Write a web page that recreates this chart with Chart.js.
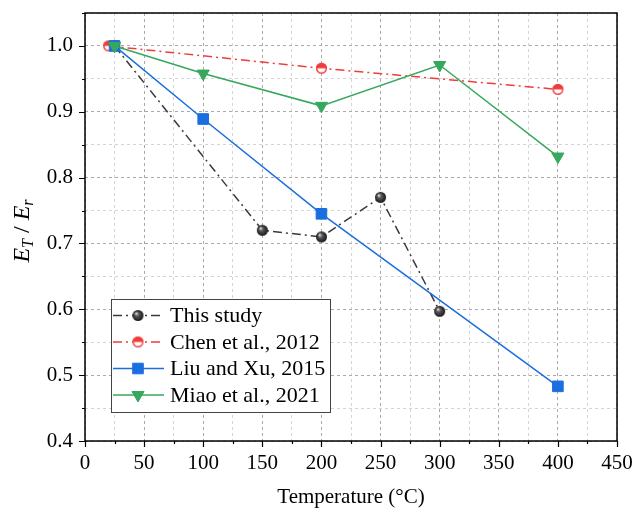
<!DOCTYPE html>
<html><head><meta charset="utf-8">
<script src="https://cdn.jsdelivr.net/npm/chart.js@4.4.0/dist/chart.umd.min.js"></script>
<style>html,body{margin:0;padding:0;background:#fff}</style></head>
<body><canvas id="c" width="634" height="514"></canvas>
<script>
// ---- data ----
const thisStudyT = [25, 150, 200, 250, 300];
const thisStudyE = [1.0, 0.72, 0.71, 0.77, 0.597];
const chenT = [20, 200, 400];
const chenE = [1.0, 0.966, 0.934];
const liuT = [25, 100, 200, 400];
const liuE = [1.0, 0.889, 0.745, 0.483];
const miaoT = [25, 100, 200, 300, 400];
const miaoE = [1.0, 0.958, 0.909, 0.971, 0.832];
const seriesNames = ['This study', 'Chen et al., 2012', 'Liu and Xu, 2015', 'Miao et al., 2021'];
const xTitle = 'Temperature (°C)';
const yTitleParts = ['E', 'T', ' / ', 'E', 'r'];

const FONT = '"Liberation Serif", "Times New Roman", serif';
const BLACK = '#3a3a3a', RED = '#f03c3c', BLUE = '#1a6ee0', GREEN = '#36a85e';

function sphere(r) {
  const s = Math.ceil(r * 2 + 2), c = document.createElement('canvas');
  c.width = c.height = s;
  const g = c.getContext('2d'), cx = s / 2;
  const grd = g.createRadialGradient(cx - r * 0.35, cx - r * 0.4, r * 0.05, cx, cx, r);
  grd.addColorStop(0, '#e0e0e0'); grd.addColorStop(0.35, '#5a5a5a'); grd.addColorStop(1, '#151515');
  g.fillStyle = grd; g.beginPath(); g.arc(cx, cx, r, 0, Math.PI * 2); g.fill();
  return c;
}
function halfCircle(r, col) {
  const s = Math.ceil(r * 2 + 2), c = document.createElement('canvas');
  c.width = c.height = s;
  const g = c.getContext('2d'), cx = s / 2;
  g.fillStyle = '#fff'; g.beginPath(); g.arc(cx, cx, r, 0, Math.PI * 2); g.fill();
  g.fillStyle = col; g.beginPath(); g.arc(cx, cx, r, Math.PI, Math.PI * 2); g.closePath(); g.fill();
  g.strokeStyle = col; g.lineWidth = 1.4; g.beginPath(); g.arc(cx, cx, r - 0.7, 0, Math.PI * 2); g.stroke();
  return c;
}
const sphereImg = sphere(5.5);
const halfImg = halfCircle(5.5, RED);

function pts(xs, ys) { return xs.map((x, i) => ({ x: x, y: ys[i] })); }

const datasets = [
  { label: seriesNames[0], data: pts(thisStudyT, thisStudyE), borderColor: BLACK, backgroundColor: BLACK,
    borderWidth: 1.5, borderDash: [9, 4, 2, 4], pointStyle: sphereImg, order: 3 },
  { label: seriesNames[1], data: pts(chenT, chenE), borderColor: RED, backgroundColor: RED,
    borderWidth: 1.5, borderDash: [9, 4, 2, 4], pointStyle: halfImg, order: 2 },
  { label: seriesNames[2], data: pts(liuT, liuE), borderColor: BLUE, backgroundColor: BLUE,
    borderWidth: 1.5, pointStyle: 'rect', pointRadius: 7.5, pointBorderColor: BLUE, pointBorderWidth: 1, order: 1 },
  { label: seriesNames[3], data: pts(miaoT, miaoE), borderColor: GREEN, backgroundColor: GREEN,
    borderWidth: 1.5, pointStyle: 'triangle', pointRotation: 180, pointRadius: 7, pointBorderColor: GREEN, pointBorderWidth: 1, order: 0 }
];
datasets.forEach(d => { d.showLine = true; d.tension = 0; d.fill = false; if (d.pointRadius === undefined) d.pointRadius = 6; d.pointHoverRadius = d.pointRadius; });

const isMajorX = v => Math.abs(v % 50) < 1e-6;
const isMajorY = v => Math.round(v * 100) % 10 === 0;

const framePlugin = {
  id: 'frame',
  afterDraw(chart) {
    const ctx = chart.ctx, a = chart.chartArea, xs = chart.scales.x, ys = chart.scales.y;
    ctx.save();
    ctx.strokeStyle = '#000'; ctx.lineWidth = 1.5; ctx.setLineDash([]);
    ctx.strokeRect(a.left, a.top, a.right - a.left, a.bottom - a.top);
    ctx.lineWidth = 1.2;
    ctx.beginPath();
    xs.ticks.forEach(t => {
      const px = Math.round(xs.getPixelForValue(t.value)) + 0.5;
      const len = isMajorX(t.value) ? 6 : 3;
      ctx.moveTo(px, a.bottom); ctx.lineTo(px, a.bottom + len);
    });
    ys.ticks.forEach(t => {
      const py = Math.round(ys.getPixelForValue(t.value)) + 0.5;
      const len = isMajorY(t.value) ? 6 : 3;
      ctx.moveTo(a.left, py); ctx.lineTo(a.left - len, py);
    });
    ctx.stroke();
    // y title with subscripts
    ctx.translate(21, 231);
    ctx.rotate(-Math.PI / 2);
    ctx.fillStyle = '#000';
    ctx.textBaseline = 'alphabetic';
    const big = 'italic 24px ' + FONT, small = 'italic 16px ' + FONT, norm = '24px ' + FONT;
    const segs = [
      { t: yTitleParts[0], f: big, dy: 0 }, { t: yTitleParts[1], f: small, dy: 4 },
      { t: yTitleParts[2], f: norm, dy: 0 }, { t: yTitleParts[3], f: big, dy: 0 }, { t: yTitleParts[4], f: small, dy: 4 }
    ];
    let total = 0;
    segs.forEach(s => { ctx.font = s.f; s.w = ctx.measureText(s.t).width; total += s.w; });
    let x = -total / 2;
    segs.forEach(s => { ctx.font = s.f; ctx.fillText(s.t, x, 8 + s.dy); x += s.w; });
    ctx.restore();
  }
};

const legendPlugin = {
  id: 'boxLegend',
  afterDraw(chart) {
    const ctx = chart.ctx;
    const bx = 111, by = 299, bw = 219, bh = 113;
    ctx.save();
    ctx.fillStyle = '#fff'; ctx.fillRect(bx, by, bw, bh);
    ctx.strokeStyle = '#444'; ctx.lineWidth = 1; ctx.setLineDash([]);
    ctx.strokeRect(bx + 0.5, by + 0.5, bw, bh);
    const rowY = [315.5, 342, 368.5, 395];
    datasets.forEach((d, i) => {
      const y = rowY[i];
      ctx.strokeStyle = d.borderColor; ctx.lineWidth = 1.5;
      ctx.setLineDash(d.borderDash || []);
      ctx.beginPath(); ctx.moveTo(113, y); ctx.lineTo(164, y); ctx.stroke();
      ctx.setLineDash([]);
      if (d.pointStyle instanceof HTMLCanvasElement) {
        ctx.drawImage(d.pointStyle, 138 - d.pointStyle.width / 2, y - d.pointStyle.height / 2);
      } else {
        ctx.fillStyle = d.backgroundColor; ctx.strokeStyle = d.borderColor; ctx.lineWidth = 1;
        Chart.helpers.drawPoint(ctx, { pointStyle: d.pointStyle, radius: d.pointRadius, rotation: d.pointRotation || 0, borderWidth: 1 }, 138, y);
      }
      ctx.fillStyle = '#000'; ctx.font = '22px ' + FONT; ctx.textBaseline = 'middle';
      ctx.fillText(d.label, 170, y + 1);
    });
    ctx.restore();
  }
};

function noPad(s) { s.paddingLeft = 0; s.paddingRight = 0; s.paddingTop = 0; s.paddingBottom = 0; }

new Chart(document.getElementById('c'), {
  type: 'scatter',
  data: { datasets: datasets },
  options: {
    responsive: false, animation: false, devicePixelRatio: 1,
    layout: { padding: { top: 13, right: 17, left: 0, bottom: 0 } },
    plugins: { legend: { display: false }, tooltip: { enabled: false } },
    scales: {
      x: {
        type: 'linear', min: 0, max: 450,
        afterFit: s => { s.height = 73; noPad(s); },
        ticks: { stepSize: 25, autoSkip: false, maxRotation: 0, padding: 10, color: '#000',
          font: { family: FONT, size: 21 },
          callback: v => isMajorX(v) ? String(v) : '' },
        grid: { drawTicks: false, color: c => isMajorX(c.tick.value) ? '#aaaaaa' : '#d4d4d4', lineWidth: 1 },
        border: { display: false, dash: [3, 3] },
        title: { display: true, text: xTitle, color: '#000', font: { family: FONT, size: 21 }, padding: { top: 10 } }
      },
      y: {
        type: 'linear', min: 0.4, max: 1.05,
        afterFit: s => { s.width = 85; noPad(s); },
        ticks: { stepSize: 0.05, autoSkip: false, padding: 12, color: '#000',
          font: { family: FONT, size: 21 },
          callback: v => isMajorY(v) ? (Math.round(v * 10) / 10).toFixed(1) : '' },
        grid: { drawTicks: false, color: c => isMajorY(c.tick.value) ? '#aaaaaa' : '#d4d4d4', lineWidth: 1 },
        border: { display: false, dash: [3, 3] }
      }
    }
  },
  plugins: [framePlugin, legendPlugin]
});
</script>
</body></html>
